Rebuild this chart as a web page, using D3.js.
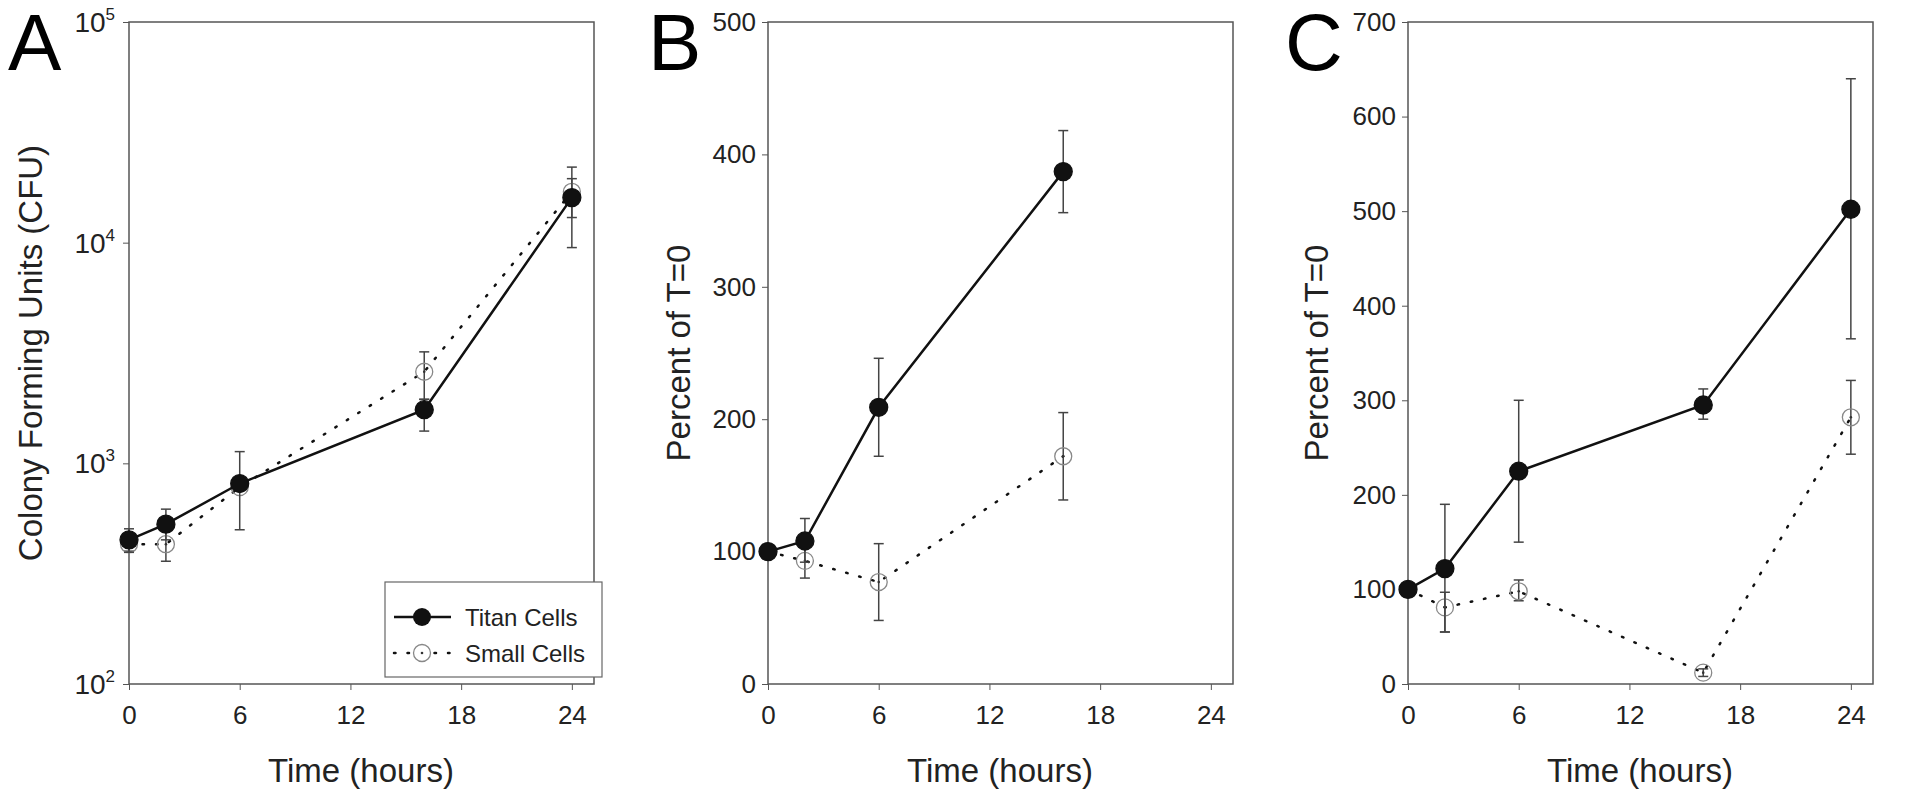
<!DOCTYPE html>
<html><head><meta charset="utf-8">
<script src="https://cdn.jsdelivr.net/npm/d3@7"></script>
<style>body{margin:0;background:#fff}text{font-family:"Liberation Sans",Arial,sans-serif;fill:#222}</style>
</head><body><svg id="c" width="1906" height="800"></svg>
<script>
const timesA=[0,2,6,16,24];
const titanA=[450,530,810,1750,16000], titanALo=[395,450,500,1400,9500], titanAHi=[505,620,1130,1950,19500];
const smallA=[430,430,780,2600,17000], smallALo=[400,360,760,1950,13000], smallAHi=[460,510,800,3200,22000];
const timesB=[0,2,6,16];
const titanB=[100,108,209,387], titanBLo=[100,92,172,356], titanBHi=[100,125,246,418];
const smallB=[100,93,77,172], smallBLo=[100,80,48,139], smallBHi=[100,104,106,205];
const timesC=[0,2,6,16,24];
const titanC=[100,122,225,295,502], titanCLo=[100,55,150,280,365], titanCHi=[100,190,300,312,640];
const smallC=[100,81,98,12,282], smallCLo=[100,55,88,8,243], smallCHi=[100,97,110,16,321];
const xTicks=[0,6,12,18,24];
const legendLabels=["Titan Cells","Small Cells"];

const svg=d3.select("#c");
function panel(o){
  const g=svg.append("g");
  const x=d3.scaleLinear().domain([0,25.2]).range([o.left,o.left+465]);
  const y=o.log?d3.scaleLog().domain([100,100000]).range([684,22]):d3.scaleLinear().domain([0,o.ymax]).range([684,22]);
  g.append("rect").attr("x",o.left).attr("y",22).attr("width",465).attr("height",662).attr("fill","none").attr("stroke","#555").attr("stroke-width",1.5);
  const xa=g.append("g").attr("transform","translate(0,684)").call(d3.axisBottom(x).tickValues(xTicks).tickSize(6).tickSizeOuter(0));
  xa.select(".domain").remove();
  xa.selectAll("line").attr("stroke","#555");
  xa.selectAll("text").attr("dy","1.2em").style("font-size","26px");
  let ya;
  if(o.log){
    ya=g.append("g").attr("transform",`translate(${o.left},0)`).call(d3.axisLeft(y).tickValues([100,1000,10000,100000]).tickFormat("").tickSize(6).tickSizeOuter(0));
    [100,1000,10000,100000].forEach(v=>{
      const t=g.append("text").attr("x",o.left-14).attr("y",y(v)+10).attr("text-anchor","end").style("font-size","28px");
      t.append("tspan").text("10");
      t.append("tspan").attr("dy",-12).style("font-size","17px").text(Math.round(Math.log10(v)));
    });
  } else {
    ya=g.append("g").attr("transform",`translate(${o.left},0)`).call(d3.axisLeft(y).ticks(o.ymax/100).tickSize(6).tickSizeOuter(0));
    ya.selectAll("text").style("font-size","26px").attr("x",-12);
  }
  ya.select(".domain").remove();
  ya.selectAll("line").attr("stroke","#555");
  g.append("text").attr("x",o.left+232).attr("y",782).attr("text-anchor","middle").style("font-size","33px").text("Time (hours)");
  g.append("text").attr("transform",`translate(${o.ylx},353) rotate(-90)`).attr("text-anchor","middle").style("font-size","33px").text(o.ylabel);
  g.append("text").attr("x",o.lx).attr("y",70).style("font-size","80px").style("fill","#000").text(o.letter);
  const line=d3.line().x(d=>x(d[0])).y(d=>y(d[1]));
  o.series.forEach(s=>{
    const pts=s.t.map((t,i)=>[t,s.v[i]]);
    g.append("path").attr("d",line(pts)).attr("fill","none").attr("stroke","#111")
      .attr("stroke-width",2.5).attr("stroke-dasharray",s.filled?null:"1.5,12").attr("stroke-linecap","round");
    s.t.forEach((t,i)=>{
      if(s.lo[i]===s.hi[i]) return;
      const cx=x(t);
      g.append("line").attr("x1",cx).attr("x2",cx).attr("y1",y(s.lo[i])).attr("y2",y(s.hi[i])).attr("stroke","#444").attr("stroke-width",1.5);
      [s.lo[i],s.hi[i]].forEach(v=>g.append("line").attr("x1",cx-5).attr("x2",cx+5).attr("y1",y(v)).attr("y2",y(v)).attr("stroke","#444").attr("stroke-width",1.5));
    });
    s.t.forEach((t,i)=>{
      g.append("circle").attr("cx",x(t)).attr("cy",y(s.v[i])).attr("r",s.filled?9:8.5)
        .attr("fill",s.filled?"#111":"none").attr("stroke",s.filled?"#111":"#888").attr("stroke-width",1.3);
      if(!s.filled) g.append("circle").attr("cx",x(t)).attr("cy",y(s.v[i])).attr("r",1.3).attr("fill","#333");
    });
  });
  return {x,y,g};
}
const mk=(t,v,lo,hi,filled)=>({t,v,lo,hi,filled});
const A=panel({left:129,log:true,ylabel:"Colony Forming Units (CFU)",ylx:42,letter:"A",lx:8,
  series:[mk(timesA,smallA,smallALo,smallAHi,false),mk(timesA,titanA,titanALo,titanAHi,true)]});
panel({left:768,ymax:500,ylabel:"Percent of T=0",ylx:690,letter:"B",lx:648,
  series:[mk(timesB,smallB,smallBLo,smallBHi,false),mk(timesB,titanB,titanBLo,titanBHi,true)]});
panel({left:1408,ymax:700,ylabel:"Percent of T=0",ylx:1328,letter:"C",lx:1285,
  series:[mk(timesC,smallC,smallCLo,smallCHi,false),mk(timesC,titanC,titanCLo,titanCHi,true)]});
const lg=A.g.append("g");
lg.append("rect").attr("x",385).attr("y",582).attr("width",217).attr("height",95).attr("fill","#fff").attr("stroke","#666").attr("stroke-width",1.2);
lg.append("line").attr("x1",394).attr("x2",451).attr("y1",617).attr("y2",617).attr("stroke","#111").attr("stroke-width",2.5);
lg.append("circle").attr("cx",422).attr("cy",617).attr("r",9).attr("fill","#111");
lg.append("line").attr("x1",394).attr("x2",451).attr("y1",653).attr("y2",653).attr("stroke","#111").attr("stroke-width",2.5).attr("stroke-dasharray","1.5,12").attr("stroke-linecap","round");
lg.append("circle").attr("cx",422).attr("cy",653).attr("r",8.5).attr("fill","#fff").attr("stroke","#888").attr("stroke-width",1.3);
lg.append("circle").attr("cx",422).attr("cy",653).attr("r",1.3).attr("fill","#333");
legendLabels.forEach((l,i)=>lg.append("text").attr("x",465).attr("y",626+i*36).style("font-size","24px").text(l));
</script></body></html>
